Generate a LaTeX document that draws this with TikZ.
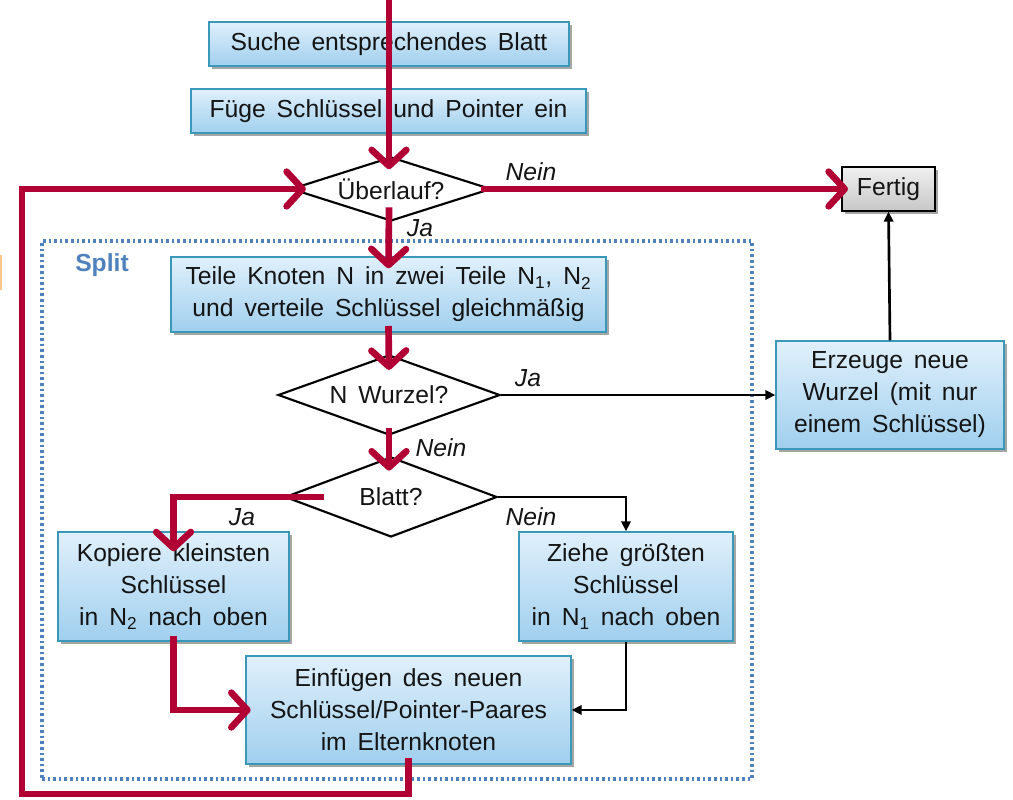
\documentclass[tikz,border=0pt]{standalone}
\usepackage{fontspec}
\setmainfont{Liberation Sans}[WordSpace=1.6]
\usetikzlibrary{arrows.meta,shapes.geometric,shadows,calc}
\definecolor{crim}{RGB}{176,0,52}
\definecolor{boxline}{RGB}{58,152,185}
\definecolor{boxtop}{RGB}{224,240,251}
\definecolor{boxbot}{RGB}{160,207,238}
\definecolor{splitblue}{RGB}{79,129,189}
\definecolor{txt}{RGB}{20,20,20}
\begin{document}
\begin{tikzpicture}[x=0.75pt,y=-0.75pt,
  fnt/.style={font=\fontsize{18.5}{24}\selectfont},
  box/.style={fnt, draw=boxline, line width=1pt, top color=boxtop, bottom color=boxbot,
    drop shadow={shadow xshift=2pt, shadow yshift=-2pt, opacity=0.35, fill=black},
    align=center, inner sep=0pt, text=txt},
  greybox/.style={fnt, draw=black, line width=1pt, top color=white!94!black, bottom color=white!78!black,
    drop shadow={shadow xshift=2pt, shadow yshift=-2pt, opacity=0.35, fill=black},
    inner sep=0pt, text=txt},
  dia/.style={fnt, shape=diamond, draw=black, line width=1.6pt, fill=white, inner sep=0pt, text=txt},
  lab/.style={fnt, font=\fontsize{18.5}{24}\selectfont\itshape, text=txt, inner sep=0pt},
  splitframe/.style={draw=splitblue, line width=2.4pt, dash pattern=on 2pt off 2.2pt, inner sep=0pt},
  blk/.style={draw=black, line width=2pt, -{Triangle[length=7.5pt,width=7pt]}},
  redarr/.style={draw=crim, line width=5pt, -{Straight Barb[round,length=12pt,width=26pt]}}
]
\useasboundingbox (0,0) rectangle (1013,799);
\fill[orange!45] (0,255) rectangle (2,290);

\node[splitframe, minimum width=532.5pt, minimum height=403.5pt] (split) at (397,510) {};
\node[fnt, font=\fontsize{18.5}{24}\selectfont\bfseries, text=splitblue, inner sep=0pt] (splitlab) at (102,265) {Split};

\node[box, minimum width=270pt, minimum height=33pt] (suche) at (389,44) {Suche entsprechendes Blatt};
\node[box, minimum width=296.25pt, minimum height=33pt] (fuege) at (388.5,111) {Füge Schlüssel und Pointer ein};
\node[dia, aspect=3.1, minimum width=150pt, minimum height=48pt] (ueber) at (391,189) {Überlauf?};
\node[greybox, minimum width=69.75pt, minimum height=33pt] (fertig) at (888.5,189) {Fertig};
\node[box, minimum width=326.25pt, minimum height=56.25pt] (teile) at (388.5,294.5) {Teile Knoten N in zwei Teile N\textsubscript{1}, N\textsubscript{2}\\und verteile Schlüssel gleichmäßig};
\node[dia, aspect=2.8, minimum width=166.5pt, minimum height=60pt] (wurzel) at (389,395) {N Wurzel?};
\node[dia, aspect=2.65, minimum width=159pt, minimum height=60pt] (blatt) at (391,497) {Blatt?};
\node[box, minimum width=173.25pt, minimum height=81.75pt] (kopiere) at (173.5,586.5) {Kopiere kleinsten\\Schlüssel\\in N\textsubscript{2} nach oben};
\node[box, minimum width=160.5pt, minimum height=81.75pt] (ziehe) at (626,586.5) {Ziehe größten\\Schlüssel\\in N\textsubscript{1} nach oben};
\node[box, minimum width=243.75pt, minimum height=81pt] (einf) at (408.5,710) {Einfügen des neuen\\Schlüssel/Pointer-Paares\\im Elternknoten};
\node[box, minimum width=171pt, minimum height=81pt] (erzeuge) at (890,395) {Erzeuge neue\\Wurzel (mit nur\\einem Schlüssel)};

\node[lab] (l1) at (531,172) {Nein};
\node[lab] (l2) at (420,228) {Ja};
\node[lab] (l3) at (528,378) {Ja};
\node[lab] (l4) at (441,448) {Nein};
\node[lab] (l5) at (242,517) {Ja};
\node[lab] (l6) at (531,517) {Nein};

\draw[blk] (wurzel.east) -- (erzeuge.west);
\draw[blk] (blatt.east) -| (ziehe.north);
\draw[blk] (ziehe.south) |- (einf.east);
\draw[blk] (erzeuge.north) -- (fertig.south);

\coordinate (top) at (389,0);
\coordinate (lb) at (22,794);
\draw[redarr] (top) -- ([yshift=-10pt]top |- ueber.north);
\draw[redarr] ([yshift=11pt]wurzel.north |- ueber.south) -- ([yshift=-9pt]teile.north);
\draw[redarr] ([yshift=5pt]teile.south) -- ([yshift=-12pt]wurzel.north);
\draw[redarr] ([yshift=6pt]wurzel.south) -- ([yshift=-11pt]wurzel.south |- blatt.north);
\draw[redarr] ([xshift=-50pt]blatt.center) -| ([yshift=-15pt]kopiere.north);
\draw[redarr] ([yshift=4pt]kopiere.south) |- ([xshift=4pt]einf.west);
\draw[redarr] ([yshift=5pt]einf.south) |- (lb) |- ([xshift=12pt]ueber.west);
\draw[redarr] ([xshift=-8pt]ueber.east) -- ([xshift=5pt]fertig.west);
\end{tikzpicture}
\end{document}
